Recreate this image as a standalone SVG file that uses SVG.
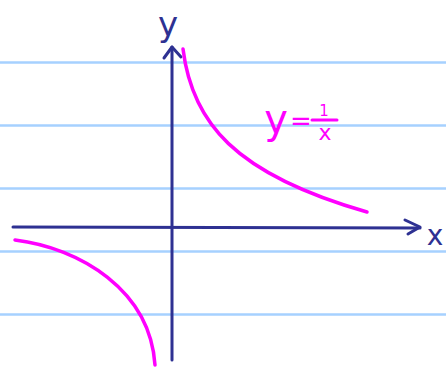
<svg xmlns="http://www.w3.org/2000/svg" width="446" height="367" viewBox="0 0 446 367">
<style>
.rule{stroke:#a6d1ff;stroke-width:2.5}
.axis{stroke:#2e3192;stroke-width:3;fill:none;stroke-linecap:round;stroke-linejoin:round}
.curve{stroke:#ff00ff;stroke-width:3.5;fill:none;stroke-linecap:round}
.lab{font-family:"DejaVu Sans",sans-serif;fill:#2e3192}
.eq{font-family:"DejaVu Sans",sans-serif;fill:#ff00ff}
</style>
<rect width="446" height="367" fill="#ffffff"/>
<g id="rules">
<line class="rule" x1="0" y1="62.5" x2="446" y2="62.5"/>
<line class="rule" x1="0" y1="125.5" x2="446" y2="125.5"/>
<line class="rule" x1="0" y1="188.5" x2="446" y2="188.5"/>
<line class="rule" x1="0" y1="251.5" x2="446" y2="251.5"/>
<line class="rule" x1="0" y1="314.5" x2="446" y2="314.5"/>
</g>
<g id="connectors">
<path class="axis" d="M13,227 L420,228"/>
<path class="axis" d="M405,220 L420,227 L408,234"/>
<path class="axis" d="M172,360 L172,47"/>
<path class="axis" d="M164,58 L172,47 L181,57"/>
</g>
<g id="curves">
<path class="curve" d="M183,49 C192,122 234,174 367,212"/>
<path class="curve" d="M15,240 C80,248 150,290 155,365"/>
</g>
<g id="label-y"><text class="lab" x="168" y="36" font-size="34" text-anchor="middle">y</text></g>
<g id="label-x"><text class="lab" x="435" y="245" font-size="28" text-anchor="middle">x</text></g>
<g id="equation">
<text class="eq" x="276" y="133" font-size="40" text-anchor="middle">y</text>
<text class="eq" x="301" y="130" font-size="26" text-anchor="middle">=</text>
<text class="eq" x="324" y="116" font-size="15" text-anchor="middle">1</text>
<line x1="312" y1="120" x2="337" y2="120" stroke="#ff00ff" stroke-width="3" stroke-linecap="round"/>
<text class="eq" x="325" y="140" font-size="22" text-anchor="middle">x</text>
</g>
</svg>
